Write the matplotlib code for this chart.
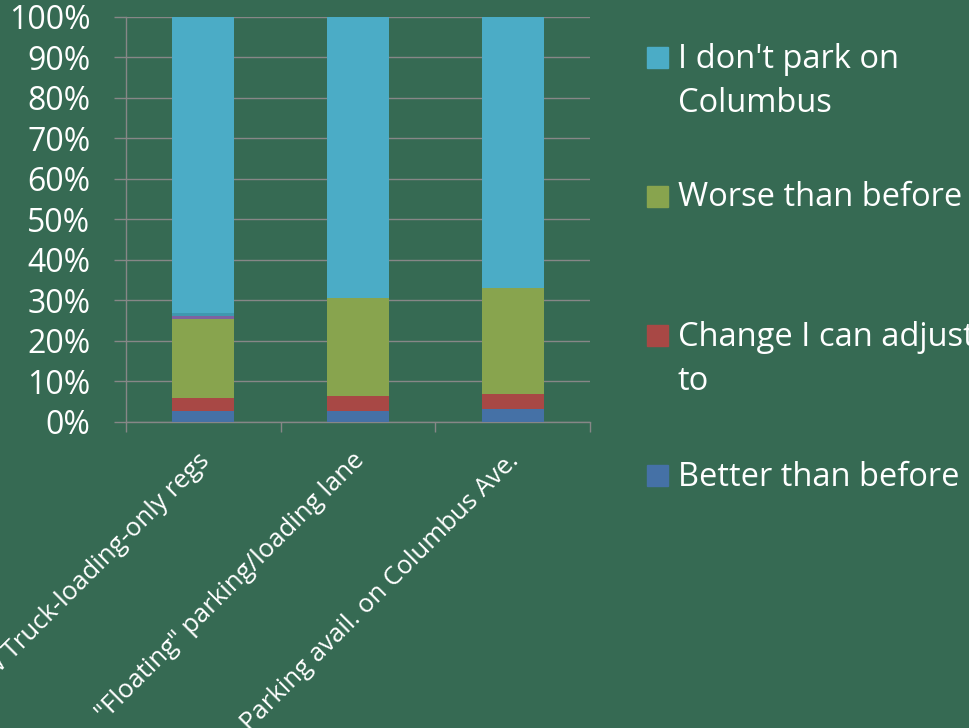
import matplotlib
matplotlib.use("Agg")
import matplotlib.pyplot as plt
from matplotlib.patches import Rectangle
from matplotlib.ticker import PercentFormatter, FixedLocator
from matplotlib.transforms import ScaledTranslation
import numpy as np

plt.rcParams['font.family'] = ['Open Sans', 'DejaVu Sans']

categories = ['New Truck-loading-only regs', '"Floating" parking/loading lane',
              'Parking avail. on Columbus Ave.']
better = [2.7, 2.65, 3.2]
change = [3.2, 3.7, 3.6]
worse = [19.4, 24.3, 26.1]
other_a = [0.7, 0.0, 0.0]
other_b = [0.9, 0.0, 0.0]
dont_park = [73.1, 69.35, 67.1]

series = [
    ('Better than before', better, '#4571A6'),
    ('Change I can adjust to', change, '#A84845'),
    ('Worse than before', worse, '#88A44E'),
    (None, other_a, '#7E62A0'),
    (None, other_b, '#3F98AF'),
    ("I don't park on Columbus", dont_park, '#4BACC6'),
]

BG = '#366A53'
GRID = '#878787'

fig = plt.figure(figsize=(9.7, 7.28), dpi=100, facecolor=BG)
ax = fig.add_axes([0.1299, 0.4207, 0.4784, 0.5564], facecolor=BG)

x = np.arange(len(categories))
bottom = np.zeros(len(categories))
for name, vals, col in series:
    ax.bar(x, vals, width=0.4, bottom=bottom, color=col, zorder=3, linewidth=0)
    bottom += np.array(vals)

ax.set_xlim(-0.5, len(categories) - 0.5)
ax.set_ylim(0, 100)
ax.yaxis.set_major_locator(FixedLocator(np.arange(0, 101, 10)))
ax.yaxis.set_major_formatter(PercentFormatter(decimals=0))
ax.grid(axis='y', color=GRID, linewidth=1.0, zorder=0)
for s in ['top', 'right']:
    ax.spines[s].set_visible(False)
for s in ['left', 'bottom']:
    ax.spines[s].set_color(GRID)
    ax.spines[s].set_linewidth(1.0)
    ax.spines[s].set_zorder(1)

ax.tick_params(axis='y', colors=GRID, length=8.6, width=1.0, direction='out',
               pad=17, labelcolor='white', labelsize=23)
ax.set_xticks(x)
ax.set_xticks(np.arange(-0.5, len(categories)), minor=True)
ax.tick_params(axis='x', which='major', length=0, pad=19, labelcolor='white', labelsize=18.5)
ax.tick_params(axis='x', which='minor', length=7, width=1.0, colors=GRID, direction='out')
ax.set_xticklabels(categories, rotation=45, ha='right', rotation_mode='anchor')
offset = ScaledTranslation(-6 / 100.0, 0, fig.dpi_scale_trans)
for lbl in ax.get_xticklabels():
    lbl.set_va('top')
    lbl.set_transform(lbl.get_transform() + offset)

# Legend (manual, Excel-like spacing)
W, H = 970.0, 728.0
legend_entries = [
    (["I don't park on", "Columbus"], '#4BACC6', 47),
    (["Worse than before"], '#88A44E', 186),
    (["Change I can adjust", "to"], '#A84845', 325),
    (["Better than before"], '#4571A6', 465),
]
for lines, col, ytop in legend_entries:
    fig.patches.append(Rectangle((647 / W, 1 - (ytop + 21) / H), 21 / W, 21 / H,
                                 transform=fig.transFigure, color=col))
    for i, line in enumerate(lines):
        yc = ytop + 12 + i * 45
        fig.text(678 / W, 1 - yc / H, line, color='white', fontsize=23.5,
                 va='center', ha='left')

fig.savefig('out.png', dpi=100, facecolor=BG)
